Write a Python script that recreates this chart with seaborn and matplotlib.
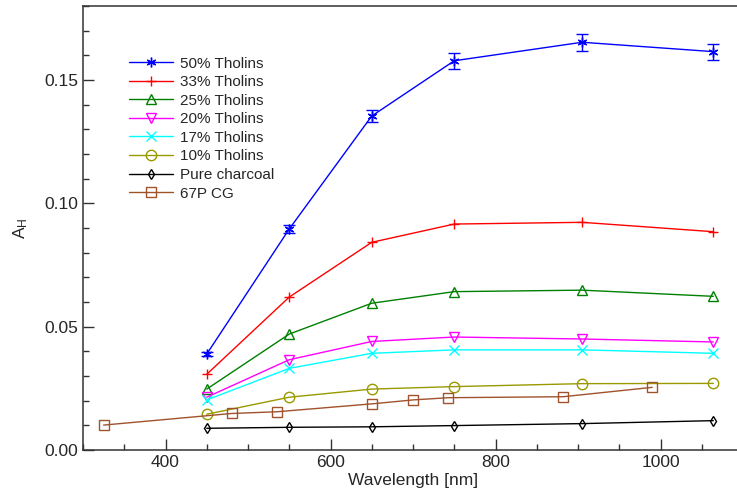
import numpy as np
import pandas as pd
import seaborn as sns
import matplotlib.pyplot as plt
from matplotlib.ticker import MultipleLocator

# wavelengths of the lab samples [nm]
wl_lab = [450, 550, 650, 750, 905, 1064]

# A_H for each mixture
tholins_50 = [0.0389, 0.0896, 0.1354, 0.1578, 0.1653, 0.1615]
tholins_50_err = [0.0008, 0.0018, 0.0025, 0.0032, 0.0035, 0.0032]
tholins_33 = [0.0307, 0.0620, 0.0842, 0.0916, 0.0923, 0.0885]
tholins_25 = [0.0247, 0.0470, 0.0595, 0.0642, 0.0648, 0.0623]
tholins_20 = [0.0214, 0.0366, 0.0440, 0.0458, 0.0450, 0.0438]
tholins_17 = [0.0203, 0.0331, 0.0392, 0.0406, 0.0406, 0.0392]
tholins_10 = [0.0145, 0.0214, 0.0247, 0.0257, 0.0269, 0.0270]
charcoal = [0.0088, 0.0092, 0.0094, 0.0099, 0.0107, 0.0119]

# 67P/CG reference spectrum
wl_67p = [325, 480, 535, 650, 700, 743, 882, 990]
ah_67p = [0.0101, 0.0148, 0.0155, 0.0187, 0.0203, 0.0212, 0.0216, 0.0254]

series = [
    ('50% Tholins', tholins_50, '#0000ff', (6, 2, 0), 7),
    ('33% Tholins', tholins_33, '#ff0000', '+', 7),
    ('25% Tholins', tholins_25, '#008000', '^', 7),
    ('20% Tholins', tholins_20, '#ff00ff', 'v', 7),
    ('17% Tholins', tholins_17, '#00ffff', 'x', 7),
    ('10% Tholins', tholins_10, '#999900', 'o', 7.5),
    ('Pure charcoal', charcoal, '#000000', 'd', 5.5),
]

sns.set_style('ticks')
plt.rcParams['font.family'] = ['Liberation Sans', 'DejaVu Sans']
plt.rcParams['mathtext.fontset'] = 'custom'
plt.rcParams['mathtext.rm'] = 'Liberation Sans'
plt.rcParams['mathtext.it'] = 'Liberation Sans'

fig = plt.figure(figsize=(7.37, 4.96), dpi=100)
ax = fig.add_axes([83 / 737, 46 / 496, 660 / 737, 444 / 496])

for name, vals, col, mk, ms in series:
    df = pd.DataFrame({'wl': wl_lab, 'ah': vals})
    sns.lineplot(data=df, x='wl', y='ah', ax=ax, color=col, lw=1.0,
                 marker=mk, markersize=ms, markerfacecolor='none',
                 markeredgecolor=col, markeredgewidth=1.0, label=name)

# error bars on the 50% tholins series
ax.errorbar(wl_lab, tholins_50, yerr=tholins_50_err, fmt='none',
            ecolor='#0000ff', elinewidth=1.0, capsize=4, capthick=1.0)

df67 = pd.DataFrame({'wl': wl_67p, 'ah': ah_67p})
sns.lineplot(data=df67, x='wl', y='ah', ax=ax, color='#a0522d', lw=1.0,
             marker='s', markersize=7, markerfacecolor='none',
             markeredgecolor='#a0522d', markeredgewidth=1.0, label='67P CG')

ax.set_xlim(300, 1100)
ax.set_ylim(0, 0.18)
ax.xaxis.set_major_locator(MultipleLocator(200))
ax.xaxis.set_minor_locator(MultipleLocator(50))
ax.yaxis.set_major_locator(MultipleLocator(0.05))
ax.yaxis.set_minor_locator(MultipleLocator(0.01))
ax.yaxis.set_major_formatter(plt.FormatStrFormatter('%.2f'))
ax.tick_params(which='major', direction='in', length=8, width=1, labelsize=12.5, color='#333333')
ax.tick_params(which='minor', direction='in', length=4, width=1, color='#333333')
for s in ['left', 'bottom', 'top']:
    ax.spines[s].set_color('#333333')
    ax.spines[s].set_linewidth(1.1)
ax.spines['right'].set_visible(False)

ax.set_xlabel('Wavelength [nm]', fontsize=12.5, labelpad=2)
ax.set_ylabel(r'A$_\mathrm{H}$', fontsize=12.5, labelpad=10)

ax.legend(loc='upper left', bbox_to_anchor=(0.06, 0.9), frameon=False,
          fontsize=11, handlelength=2.9, handletextpad=0.45, labelspacing=0.3,
          borderaxespad=0)

fig.savefig('out.png', dpi=100)
